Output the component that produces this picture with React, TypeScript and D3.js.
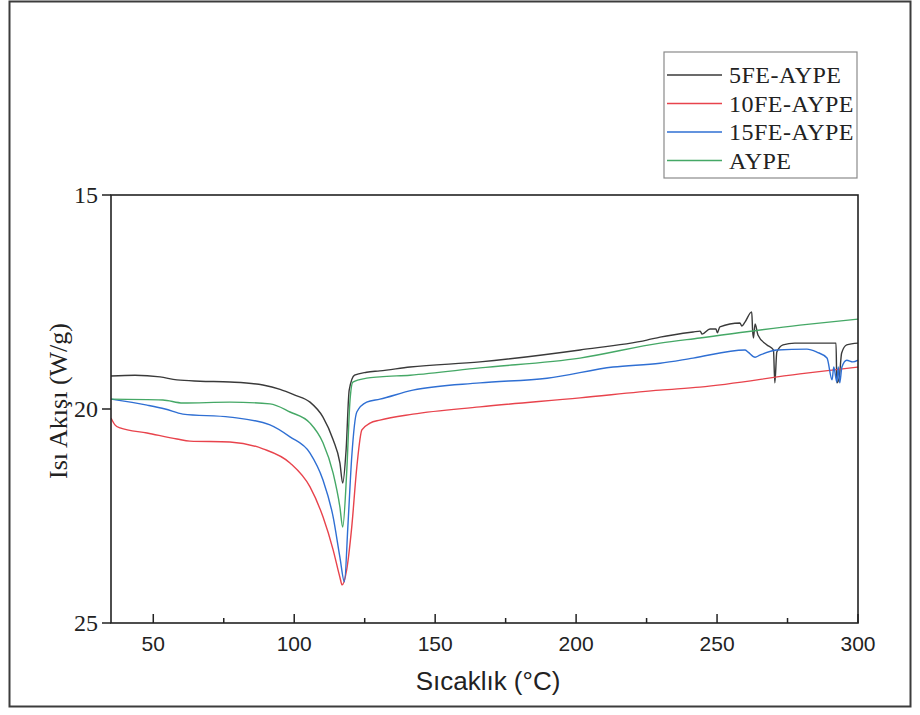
import React from "react";
import * as d3 from "d3";

// Temperature (°C) and heat flow (W/g) pairs
const black5FE: [number, number][] = [
  [35, 19.23], [43.5, 19.21], [52.4, 19.25], [58.4, 19.32], [66.6, 19.35], [77.2, 19.37],
  [88.9, 19.44], [95, 19.54], [100, 19.67], [105.6, 19.84], [110.2, 20.19], [113.8, 20.72], [116.2, 21.26],
  [117.2, 21.73], [118.4, 20.96], [119.5, 19.56], [121.4, 19.21], [125.7, 19.14], [130.4, 19.11],
  [141.1, 19.02], [165.9, 18.9], [201.4, 18.62], [225.1, 18.39], [229.8, 18.32], [241.5, 18.2],
  [244, 18.18], [244.7, 18.25], [247.5, 18.13], [249.6, 18.13], [250.1, 18.22], [251, 18.08],
  [258.1, 17.99], [258.8, 18.06], [259.9, 17.97], [262.3, 17.73], [262.6, 18.15], [262.9, 18.34],
  [263.5, 18.01], [264.5, 18.27], [267.6, 18.5], [270, 18.62], [270.5, 19.39], [271.2, 18.67],
  [273.4, 18.5], [277.6, 18.46], [286.5, 18.46], [292.2, 18.46], [292.5, 19.39], [293.3, 19.28],
  [294.2, 18.69], [296, 18.5], [300, 18.46],
];
const red10FE: [number, number][] = [
  [35, 20.21], [36.4, 20.37], [38.2, 20.44], [47.8, 20.56], [58.4, 20.7], [63, 20.75],
  [77.2, 20.77], [88.9, 20.93], [98.5, 21.26], [105.6, 21.82], [110.2, 22.52], [113.8, 23.29],
  [116.2, 23.93], [117, 24.11], [118.6, 23.76], [120.4, 22.76], [122.2, 21.36], [124, 20.49],
  [126.9, 20.33], [130.4, 20.26], [142.1, 20.12], [165.9, 19.95], [201.4, 19.74], [229.8, 19.56],
  [243.9, 19.49], [279.4, 19.18], [300, 19.02],
];
const blue15FE: [number, number][] = [
  [35, 19.77], [47.8, 19.91], [54.2, 20.0], [60.5, 20.12], [77.2, 20.19], [91.4, 20.37],
  [98.5, 20.65], [105.6, 21.03], [110.2, 21.66], [113.8, 22.52], [116.2, 23.46], [117.8, 24.04],
  [119.1, 22.66], [120.4, 21.12], [122.2, 20.07], [125.7, 19.84], [130.4, 19.77], [142.1, 19.56],
  [165.9, 19.39], [189.7, 19.28], [213.1, 19.02], [229.8, 18.93], [241.5, 18.81], [259.9, 18.62],
  [261, 18.67], [263.5, 18.79], [265.2, 18.74], [271.2, 18.62], [281.9, 18.6], [285.4, 18.67],
  [289, 18.81], [290.8, 19.32], [291.4, 19.02], [292.5, 19.37], [293, 19.02], [293.5, 19.39],
  [294.3, 19.02], [296, 18.86], [298.2, 18.9], [300, 18.86],
];
const greenAYPE: [number, number][] = [
  [35, 19.77], [53.4, 19.79], [60.5, 19.86], [77.2, 19.84], [91.4, 19.88], [98.5, 20.07],
  [105.6, 20.33], [110.2, 20.79], [113.8, 21.5], [116.2, 22.29], [117.2, 22.76], [118.6, 21.5],
  [119.8, 19.79], [120.8, 19.37], [125.7, 19.28], [130.4, 19.25], [141.1, 19.21], [165.9, 19.04],
  [201.4, 18.81], [229.8, 18.46], [243.9, 18.34], [279.4, 18.04], [300, 17.9],
];

const seriesNames = ["5FE-AYPE", "10FE-AYPE", "15FE-AYPE", "AYPE"];
const seriesData = [black5FE, red10FE, blue15FE, greenAYPE];
const seriesColors = ["#3a3a3a", "#e8434c", "#2f6fd3", "#45a866"];
const xMajorTicks = [50, 100, 150, 200, 250, 300];
const xMinorTicks = [75, 125, 175, 225, 275];
const yTicks = [15, 20, 25];

export default function App() {
  const W = 920, H = 715;
  const left = 111, right = 858, top = 195, bottom = 623;
  const x = d3.scaleLinear().domain([35, 300]).range([left, right]);
  const y = d3.scaleLinear().domain([15, 25]).range([top, bottom]);
  const line = d3
    .line<[number, number]>()
    .x((d) => x(d[0]))
    .y((d) => y(d[1]))
    .curve(d3.curveMonotoneX);

  const serif = "'Liberation Serif', 'Times New Roman', serif";
  const sans = "'Liberation Sans', Arial, sans-serif";

  return (
    <div style={{ position: "absolute", left: 0, top: 0 }}>
      <svg width={W} height={H} style={{ display: "block", background: "#fff" }}>
        <rect x={9.5} y={1.5} width={901} height={705} fill="none" stroke="#3c3c3c" strokeWidth={2} />
        <defs>
          <clipPath id="plotclip">
            <rect x={left} y={top} width={right - left} height={bottom - top} />
          </clipPath>
        </defs>
        <g clipPath="url(#plotclip)">
          {seriesData.map((d, i) => (
            <path key={i} d={line(d) || ""} fill="none" stroke={seriesColors[i]} strokeWidth={1.4} />
          ))}
        </g>
        {/* plot frame */}
        <rect x={left} y={top} width={right - left} height={bottom - top} fill="none" stroke="#222" strokeWidth={1.6} />
        {/* x ticks */}
        {xMajorTicks.map((t) => (
          <g key={"xm" + t}>
            <line x1={x(t)} x2={x(t)} y1={bottom} y2={bottom - 9} stroke="#222" strokeWidth={1.5} />
            <text x={x(t)} y={651} textAnchor="middle" fontFamily={sans} fontSize={21} fill="#222">
              {t}
            </text>
          </g>
        ))}
        {xMinorTicks.map((t) => (
          <line key={"xn" + t} x1={x(t)} x2={x(t)} y1={bottom} y2={bottom - 5} stroke="#222" strokeWidth={1.5} />
        ))}
        {yTicks.map((t) => (
          <g key={"y" + t}>
            <line x1={left - 9} x2={left} y1={y(t)} y2={y(t)} stroke="#222" strokeWidth={1.5} />
            <text x={left - 13} y={y(t) + 8} textAnchor="end" fontFamily={serif} fontSize={24} fill="#222">
              {t}
            </text>
          </g>
        ))}
        <text x={488} y={690} textAnchor="middle" fontFamily={sans} fontSize={26} fill="#222">
          Sıcaklık (°C)
        </text>
        <text
          transform={`translate(67, ${(top + bottom) / 2 - 8}) rotate(-90)`}
          textAnchor="middle"
          fontFamily={serif}
          fontSize={26}
          fill="#222"
        >
          Isı Akışı (W/g)
        </text>
        {/* legend */}
        <rect x={664} y={52} width={193} height={126} fill="#fff" stroke="#8a8a8a" strokeWidth={1.2} />
        {seriesNames.map((n, i) => (
          <g key={n}>
            <line x1={667} x2={722} y1={75 + i * 28.5} y2={75 + i * 28.5} stroke={seriesColors[i]} strokeWidth={1.4} />
            <text x={729} y={75 + i * 28.5 + 8} fontFamily={serif} fontSize={24} fill="#222" letterSpacing={0.5}>
              {n}
            </text>
          </g>
        ))}
      </svg>
    </div>
  );
}
